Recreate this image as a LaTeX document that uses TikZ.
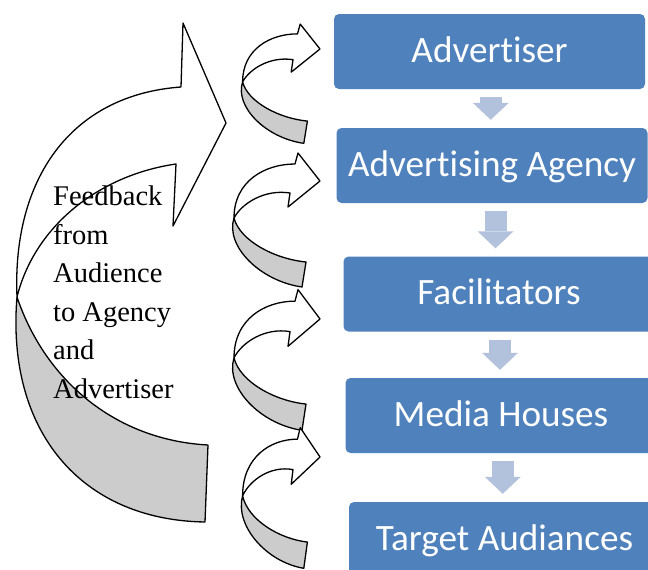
\documentclass[tikz,border=0pt]{standalone}
\usepackage{fontspec}
\setmainfont{Liberation Serif}
\newfontfamily\calibri[Ligatures=CommonOff]{Carlito}
\usetikzlibrary{arrows.meta,calc}
\definecolor{boxblue}{RGB}{79,129,189}
\definecolor{flowblue}{RGB}{179,194,220}
\tikzset{
  stage/.style={rectangle, rounded corners=5pt, fill=boxblue, text=white,
    minimum width=311pt, minimum height=75pt, text height=26pt, text depth=5pt,
    font=\calibri\fontsize{37.2}{44}\selectfont},
  flow/.style={draw=flowblue, line width=22pt, shorten <=8pt, shorten >=8pt,
    -{Triangle[width=36pt,length=17pt,line width=0pt,fill=flowblue]}},
  band/.style={draw=black, line width=1.3pt, line join=round, fill=white},
  back/.style={band, fill=gray!40},
  spiral/.pic={
    \draw[back] (-86,37) .. controls (-95,65) and (-60,100) .. (-18,106)
      -- (-14,81) .. controls (-45,78) and (-80,60) .. cycle;
    \draw[band] (-86,37) .. controls (-86,0) and (-55,-17) .. (-25,-17)
      -- (-22,-28) -- (0,0) -- (-32,26) -- (-30,12)
      .. controls (-55,8) and (-78,22) .. cycle;
  }
}
\begin{document}
\begin{tikzpicture}[x=1pt, y=-1pt]
\useasboundingbox (0,0) rectangle (648,570);
\clip (0,0) rectangle (648,570);

% big feedback arrow
\draw[back] (17,297) .. controls (6,430) and (80,520) .. (205,522)
  -- (208,445) .. controls (115,440) and (45,380) .. cycle;
\draw[band] (17,297) .. controls (12,180) and (70,95) .. (181,87)
  -- (183,23) -- (226,123) -- (173,226) -- (176,164)
  .. controls (100,175) and (35,225) .. cycle;
\node[anchor=north west, align=left, inner sep=0pt,
  font=\fontsize{28.5}{38.5}\selectfont] (feedback) at (53,186)
  {Feedback\\from\\Audience\\to Agency\\and\\Advertiser};

% small arrows
\pic[xscale=0.9, yscale=0.89] at (320,49) {spiral};
\pic at (320,181) {spiral};
\pic[yscale=1.05] at (320,319) {spiral};
\pic[xscale=0.9, yscale=1.05] at (320,457) {spiral};

% flow
\node[stage] (b1) at (489.5,51.5) {Advertiser};
\node[stage] (b2) at (492,165.5) {Advertising Agency};
\node[stage] (b3) at (499,294) {Facilitators};
\node[stage] (b4) at (501,415.5) {Media Houses};
\node[stage] (b5) at (504.5,539.5) {Target Audiances};

\foreach \a/\b in {b1/b2, b2/b3, b3/b4, b4/b5}{
  \coordinate (m) at ($(\a.south)!0.5!(\b.north)$);
  \draw[flow] (m |- \a.south) -- (m |- \b.north);
}
\end{tikzpicture}
\end{document}
